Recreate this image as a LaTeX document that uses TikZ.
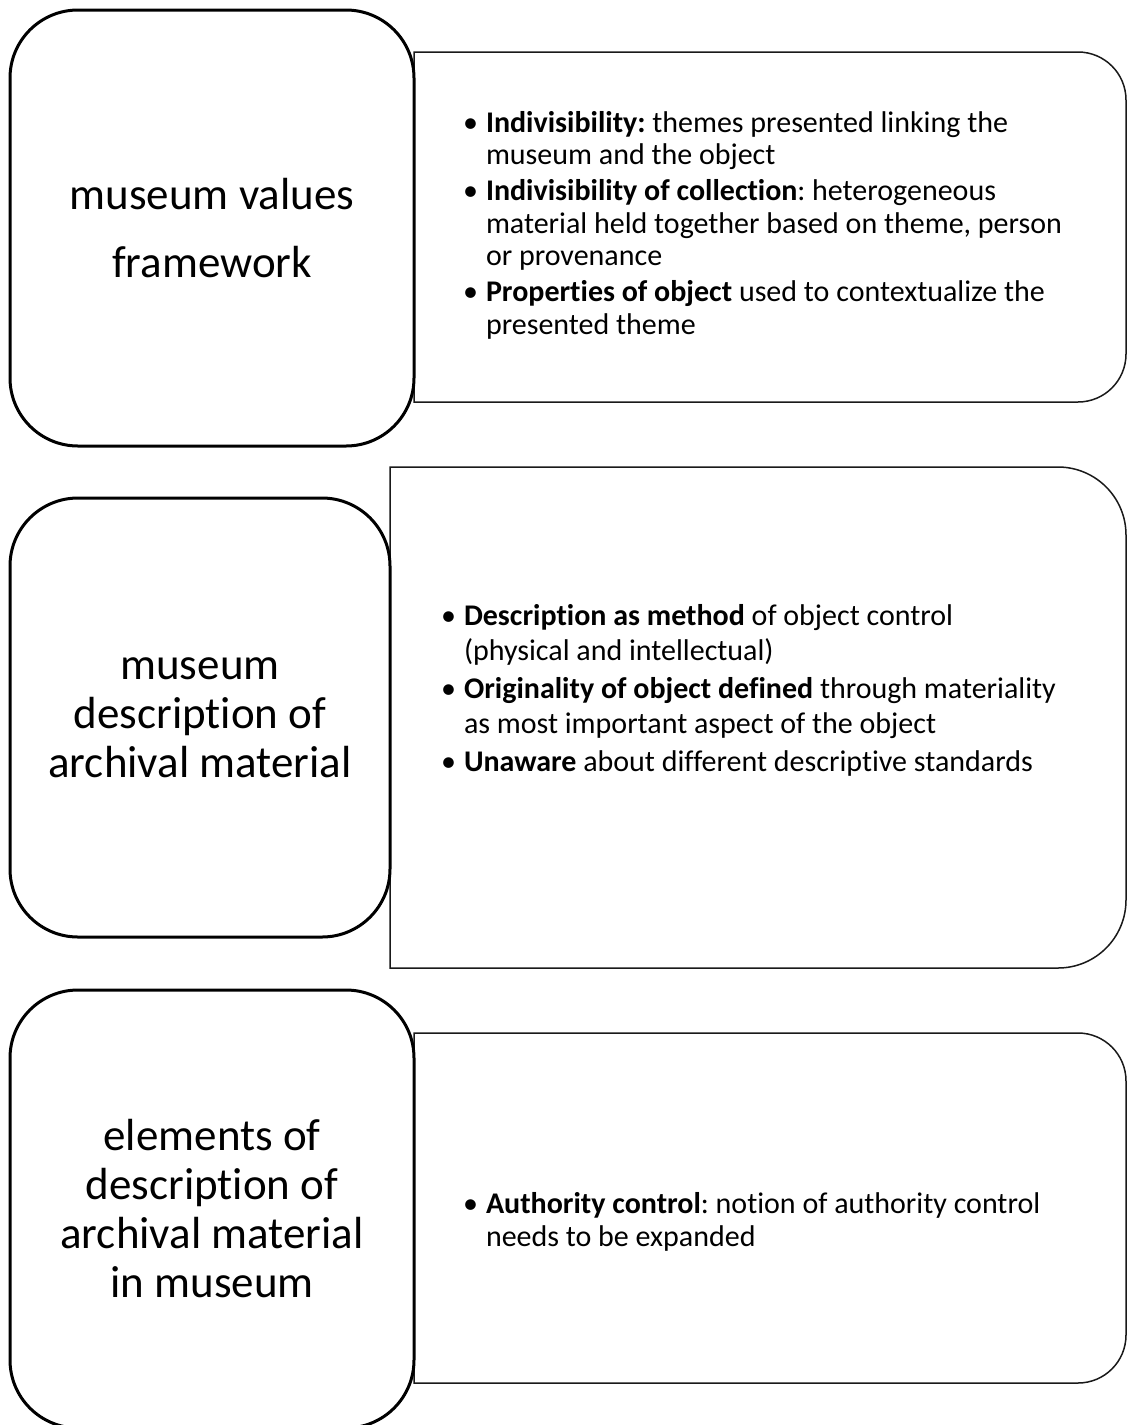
\documentclass[tikz,border=0pt]{standalone}
\usepackage{fontspec}
\setmainfont{Carlito}[Ligatures=NoCommon]
\newcommand{\bl}[1]{\hbox{\makebox[23pt][l]{•}#1}}
\newcommand{\cl}[1]{\hbox{\hspace*{23pt}#1}}
\frenchspacing
\tikzset{
  leftbox/.style={draw, line width=3pt, rounded corners=68pt, fill=white, align=center,
    inner sep=0pt, outer sep=0pt, font=\fontsize{45}{49}\selectfont},
  rightarea/.style={inner sep=0pt, outer sep=0pt},
  frameline/.style={draw=black!90, line width=1.5pt},
  bodytext/.style={anchor=base west, inner sep=0pt, outer sep=0pt, font=\fontsize{30}{33}\selectfont},
}
\begin{document}
\begin{tikzpicture}[x=1pt,y=1pt]
\useasboundingbox (0,0) rectangle (1127,-1425);
% right areas
\node[rightarea, minimum width=712pt, minimum height=350pt] (A2) at (770,-227) {};
\node[rightarea, minimum width=736pt, minimum height=501pt] (B2) at (758,-717.5) {};
\node[rightarea, minimum width=712pt, minimum height=350pt] (C2) at (770,-1208) {};
\draw[frameline] (A2.north west) -- ([xshift=-48pt]A2.north east) arc[start angle=90, end angle=0, radius=48pt]
  -- ([yshift=48pt]A2.south east) arc[start angle=0, end angle=-90, radius=48pt] -- (A2.south west) -- cycle;
\draw[frameline] (B2.north west) -- ([xshift=-68pt]B2.north east) arc[start angle=90, end angle=0, radius=68pt]
  -- ([yshift=68pt]B2.south east) arc[start angle=0, end angle=-90, radius=68pt] -- (B2.south west) -- cycle;
\draw[frameline] (C2.north west) -- ([xshift=-48pt]C2.north east) arc[start angle=90, end angle=0, radius=48pt]
  -- ([yshift=48pt]C2.south east) arc[start angle=0, end angle=-90, radius=48pt] -- (C2.south west) -- cycle;
% left boxes
\node[leftbox, minimum width=404pt, minimum height=436pt, font=\fontsize{45}{68}\selectfont] (A1) at (212,-228) {museum values\\framework};
\node[leftbox, minimum width=380pt, minimum height=439pt] (B1) at (200,-717.5) {museum\\description of\\archival material};
\node[leftbox, minimum width=404pt, minimum height=438pt] (C1) at (212,-1209) {elements of\\description of\\archival material\\in museum};
% right texts
\node[bodytext] (A2t) at (463,-132) {\vtop{\baselineskip=32.5pt
  \bl{\textbf{Indivisibility:} themes presented linking the}
  \cl{museum and the object}\vskip3.5pt
  \bl{\textbf{Indivisibility of collection}: heterogeneous}
  \cl{material held together based on theme, person}
  \cl{or provenance}\vskip3.5pt
  \bl{\textbf{Properties of object} used to contextualize the}
  \cl{presented theme}}};
\node[bodytext] (B2t) at (441,-625) {\vtop{\baselineskip=35.5pt
  \bl{\textbf{Description as method} of object control}
  \cl{(physical and intellectual)}\vskip2pt
  \bl{\textbf{Originality of object defined} through materiality}
  \cl{as most important aspect of the object}\vskip2pt
  \bl{\textbf{Unaware} about different descriptive standards}}};
\node[bodytext] (C2t) at (463,-1213) {\vtop{\baselineskip=33pt
  \bl{\textbf{Authority control}: notion of authority control}
  \cl{needs to be expanded}}};
\end{tikzpicture}
\end{document}
